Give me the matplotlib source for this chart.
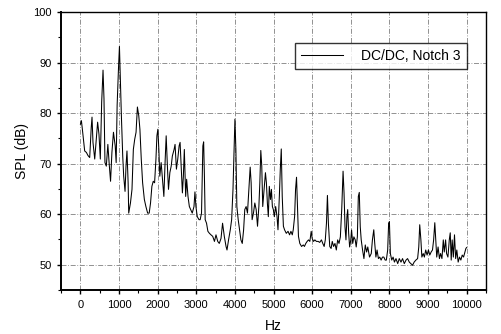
import matplotlib
matplotlib.use("Agg")
import matplotlib.pyplot as plt
from matplotlib.ticker import MultipleLocator

# SPL spectrum, DC/DC operation, notch 3
freq_hz = [
    0, 25, 50, 85, 110, 155, 195, 240, 280, 300, 325, 370, 410, 445, 480, 515,
    550, 585, 610, 635, 670, 710, 745, 780, 815, 855, 900, 925, 950, 985, 1010,
    1035, 1060, 1095, 1120, 1155, 1180, 1205, 1235, 1250, 1295, 1335, 1370,
    1405, 1440, 1475, 1510, 1540, 1575, 1610, 1655, 1695, 1740, 1780, 1815,
    1850, 1885, 1920, 1955, 1980, 2005, 2030, 2055, 2090, 2125, 2160, 2195,
    2220, 2255, 2280, 2315, 2350, 2380, 2425, 2450, 2485, 2520, 2555, 2580,
    2615, 2640, 2665, 2690, 2725, 2750, 2785, 2820, 2855, 2895, 2940, 2965,
    2990, 3025, 3070, 3100, 3135, 3170, 3190, 3210, 3230, 3265, 3300, 3340,
    3380, 3425, 3470, 3510, 3555, 3595, 3640, 3680, 3725, 3770, 3795, 3835,
    3880, 3915, 3950, 3975, 4000, 4025, 4050, 4085, 4120, 4155, 4190, 4225,
    4255, 4290, 4325, 4360, 4395, 4420, 4445, 4480, 4515, 4550, 4585, 4620,
    4645, 4670, 4695, 4720, 4755, 4790, 4815, 4840, 4865, 4890, 4920, 4945,
    4970, 4995, 5020, 5055, 5090, 5115, 5150, 5175, 5200, 5225, 5255, 5285,
    5330, 5375, 5415, 5450, 5485, 5510, 5545, 5570, 5595, 5620, 5645, 5680,
    5725, 5770, 5800, 5835, 5870, 5905, 5940, 5975, 6000, 6035, 6070, 6110,
    6155, 6195, 6240, 6275, 6310, 6340, 6370, 6395, 6420, 6455, 6490, 6520,
    6555, 6590, 6625, 6660, 6695, 6730, 6765, 6800, 6825, 6850, 6875, 6900,
    6920, 6945, 6970, 7000, 7020, 7050, 7080, 7115, 7140, 7170, 7195, 7220,
    7245, 7270, 7305, 7340, 7375, 7410, 7440, 7485, 7530, 7560, 7595, 7620,
    7650, 7680, 7715, 7750, 7785, 7820, 7855, 7890, 7920, 7955, 7980, 8000,
    8025, 8060, 8095, 8130, 8170, 8215, 8255, 8300, 8340, 8385, 8430, 8470,
    8515, 8555, 8600, 8640, 8685, 8730, 8760, 8785, 8815, 8840, 8875, 8905,
    8940, 8975, 9010, 9045, 9080, 9115, 9145, 9175, 9200, 9225, 9260, 9295,
    9325, 9360, 9395, 9420, 9455, 9480, 9515, 9550, 9575, 9600, 9625, 9655,
    9685, 9715, 9745, 9780, 9815, 9850, 9885, 9920, 9955, 9980, 10000,
]
spl_db = [
    77.8, 78.5, 76.8, 74.2, 72.5, 72.2, 71.6, 71.2, 77.2, 79.2, 74.2, 70.9,
    74.8, 78.2, 75.8, 70.9, 82.2, 88.5, 82.8, 70.2, 69.5, 73.8, 69.9, 66.5,
    72.2, 76.2, 73.5, 70.2, 81.5, 88.8, 93.2, 86.1, 79.5, 71.5, 67.5, 64.5,
    69.5, 72.5, 66.2, 60.2, 62.2, 64.9, 72.8, 74.8, 76.2, 81.2, 79.5, 76.8,
    70.9, 66.2, 62.9, 61.5, 60.2, 60.2, 62.2, 65.5, 66.5, 66.2, 70.9, 75.5,
    76.8, 72.8, 67.5, 70.2, 66.9, 63.5, 70.9, 75.5, 68.9, 64.9, 68.2, 69.5,
    71.5, 72.8, 73.8, 68.9, 70.9, 73.5, 74.2, 68.2, 64.2, 67.5, 72.8, 63.5,
    66.9, 63.5, 61.5, 60.9, 60.2, 61.5, 64.4, 61.5, 59.5, 58.9, 58.9, 60.2,
    73.5, 74.3, 67.5, 58.9, 58.2, 56.6, 56.2, 55.9, 55.6, 54.6, 55.9, 54.6,
    54.2, 55.2, 58.2, 55.6, 53.6, 52.9, 54.9, 56.9, 58.9, 64.9, 72.2, 78.8,
    72.8, 61.5, 58.9, 56.9, 54.9, 54.2, 56.9, 60.9, 61.5, 60.2, 64.9, 69.3,
    66.2, 58.9, 60.2, 62.2, 60.9, 57.6, 61.5, 66.2, 72.6, 69.5, 61.5, 64.9,
    68.2, 66.2, 62.2, 59.5, 65.5, 62.9, 64.9, 61.5, 60.9, 59.5, 61.5, 59.5,
    56.9, 63.5, 68.9, 72.9, 63.5, 57.6, 56.9, 56.2, 56.6, 55.9, 56.6, 55.9,
    56.9, 59.5, 64.9, 67.3, 61.5, 55.6, 54.2, 53.6, 53.9, 53.6, 54.2, 54.6,
    54.9, 54.6, 56.6, 55.2, 54.6, 54.9, 54.6, 54.6, 54.4, 54.9, 54.2, 53.6,
    54.9, 58.2, 63.7, 58.2, 53.6, 53.2, 54.6, 53.6, 54.2, 52.9, 54.9, 54.2,
    55.5, 60.9, 68.5, 64.2, 57.5, 54.9, 59.5, 60.9, 56.2, 53.5, 54.9, 56.9,
    54.2, 55.5, 54.9, 53.5, 55.5, 63.5, 64.3, 57.5, 54.9, 52.9, 51.2, 53.9,
    52.5, 53.5, 51.5, 52.2, 54.9, 56.9, 54.2, 51.5, 52.9, 51.2, 51.5, 50.9,
    51.5, 51.5, 50.9, 50.9, 52.9, 58.2, 58.5, 52.2, 50.9, 51.5, 50.5, 51.2,
    50.2, 51.2, 50.5, 51.2, 50.2, 50.9, 51.2, 50.5, 50.2, 49.9, 50.5, 50.9,
    51.2, 53.5, 57.9, 54.9, 51.5, 52.2, 51.5, 52.9, 51.9, 52.9, 51.9, 52.5,
    52.9, 54.9, 58.3, 54.9, 51.5, 53.5, 51.2, 52.2, 51.2, 54.9, 52.5, 54.9,
    52.2, 51.5, 54.9, 56.3, 50.9, 54.9, 51.5, 55.9, 51.2, 52.9, 50.5, 51.5,
    50.9, 51.9, 51.5, 52.5, 53.2, 53.4,
]
series_label = "DC/DC, Notch 3"

plt.rcParams["font.family"] = ["Liberation Sans", "DejaVu Sans"]

fig = plt.figure(figsize=(5.01, 3.34), dpi=100)
ax = fig.add_axes([0.122, 0.132, 0.848, 0.832])

ax.plot(freq_hz, spl_db, color="black", linewidth=0.75, label=series_label)

ax.set_xlim(-500, 10500)
ax.set_ylim(45, 100)
ax.xaxis.set_major_locator(MultipleLocator(1000))
ax.xaxis.set_minor_locator(MultipleLocator(500))
ax.yaxis.set_major_locator(MultipleLocator(10))
ax.yaxis.set_minor_locator(MultipleLocator(5))
ax.set_xticks(range(0, 10001, 1000))

ax.grid(True, which="major", color="#808080", linestyle=(0, (6, 2, 1, 2)),
        linewidth=0.6)
ax.tick_params(which="major", direction="out", length=3, width=1,
               labelsize=8, pad=4)
ax.tick_params(which="minor", direction="out", length=2, width=0.8)
for side in ["top", "right"]:
    ax.spines[side].set_linewidth(1.0)
for side in ["left", "bottom"]:
    ax.spines[side].set_linewidth(1.4)

ax.set_xlabel("Hz", fontsize=10, labelpad=7)
ax.set_ylabel("SPL (dB)", fontsize=10, labelpad=3)

leg = ax.legend(loc="upper right", bbox_to_anchor=(0.955, 0.89),
                fontsize=10, frameon=True, fancybox=False,
                handlelength=3.0, borderpad=0.45, handletextpad=1.3,
                borderaxespad=0)
leg.get_frame().set_edgecolor("black")
leg.get_frame().set_linewidth(1.0)

fig.savefig("out.png", dpi=100)
